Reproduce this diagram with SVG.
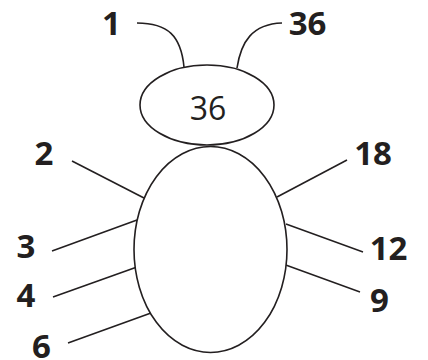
<svg xmlns="http://www.w3.org/2000/svg" width="428" height="360" viewBox="0 0 428 360">
<style>
.s{fill:none;stroke:#231f20;stroke-width:1.6}
.b{fill:#fff;stroke:#231f20;stroke-width:1.6}
.l{font-family:"Open Sans","Noto Sans",sans-serif;font-weight:bold;font-size:33px;fill:#231f20;text-anchor:middle}
.h{font-family:"Open Sans","Noto Sans",sans-serif;font-size:32px;fill:#231f20;text-anchor:middle}
</style>
<rect width="428" height="360" fill="#fff"/>
<g id="connectors">
<path class="s" d="M137,23 C168,23 181,36 184,67"/>
<path class="s" d="M282,23 C252,24 241,42 237,68"/>
<line class="s" x1="72" y1="161" x2="144" y2="198"/>
<line class="s" x1="52" y1="251" x2="137" y2="220"/>
<line class="s" x1="53" y1="297" x2="137" y2="267"/>
<line class="s" x1="68" y1="343" x2="151" y2="313"/>
<line class="s" x1="347" y1="160" x2="277" y2="197"/>
<line class="s" x1="363" y1="252" x2="286" y2="224"/>
<line class="s" x1="360" y1="292" x2="283" y2="264"/>
</g>
<g id="head">
<ellipse class="b" cx="207" cy="105" rx="67" ry="40"/>
<text class="h" x="208" y="120">36</text>
</g>
<g id="body">
<ellipse class="b" cx="210.5" cy="249.5" rx="76.5" ry="103"/>
</g>
<g id="labels">
<text class="l" x="111.5" y="35">1</text>
<text class="l" x="307.5" y="35">36</text>
<text class="l" x="44" y="165">2</text>
<text class="l" x="26" y="258">3</text>
<text class="l" x="26" y="307">4</text>
<text class="l" x="41.5" y="358">6</text>
<text class="l" x="373" y="165">18</text>
<text class="l" x="388.5" y="260">12</text>
<text class="l" x="379.5" y="312">9</text>
</g>
</svg>
